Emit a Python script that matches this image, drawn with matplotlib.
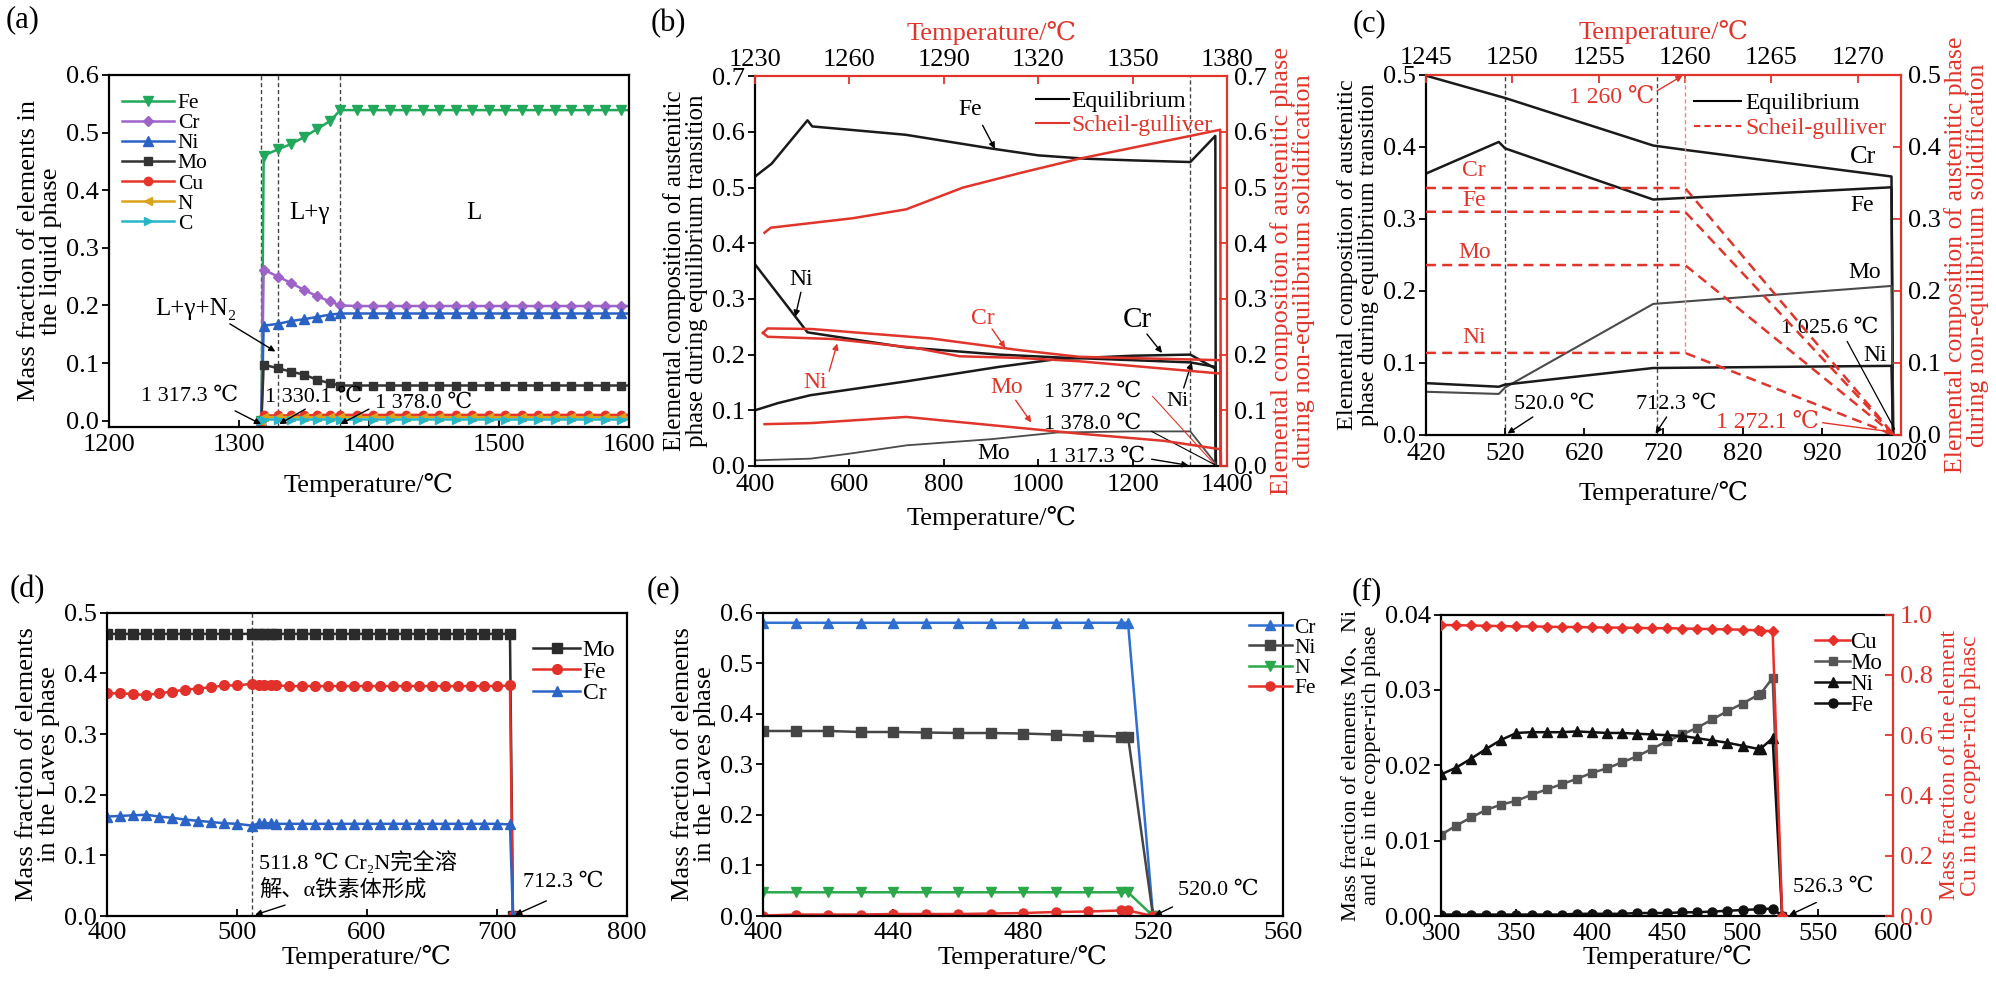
import numpy as np
import matplotlib
matplotlib.use('Agg')
import matplotlib.pyplot as plt
from matplotlib.lines import Line2D
from matplotlib.ticker import FormatStrFormatter

plt.rcParams['font.family'] = ['Liberation Serif', 'DejaVu Serif', 'Noto Sans CJK SC']
plt.rcParams['mathtext.fontset'] = 'stix'
plt.rcParams['axes.unicode_minus'] = False

RED = '#e0352b'
FS_TICK = 19
FS_LAB = 19
FS_ANN = 16

# ---------------- (a) liquid phase ----------------
T_a = [1317.3, 1319.0, 1330.1, 1340.0, 1350.0, 1360.0, 1370.0, 1378.0,
       1390.7, 1403.4, 1416.1, 1428.8, 1441.5, 1454.2, 1466.9, 1479.6, 1492.3,
       1505.0, 1517.7, 1530.4, 1543.1, 1555.8, 1568.5, 1581.2, 1593.9, 1606.6]
Fe_a = [0.0, 0.460, 0.471, 0.480, 0.492, 0.506, 0.520, 0.539,
        0.539, 0.539, 0.539, 0.539, 0.539, 0.539, 0.539, 0.539, 0.539,
        0.539, 0.539, 0.539, 0.539, 0.539, 0.539, 0.539, 0.539, 0.539]
Cr_a = [0.0, 0.262, 0.250, 0.239, 0.227, 0.216, 0.207, 0.200,
        0.199, 0.199, 0.199, 0.199, 0.199, 0.199, 0.199, 0.199, 0.199,
        0.199, 0.199, 0.199, 0.199, 0.199, 0.199, 0.199, 0.199, 0.199]
Ni_a = [0.0, 0.165, 0.168, 0.173, 0.176, 0.180, 0.184, 0.186,
        0.186, 0.186, 0.186, 0.186, 0.186, 0.186, 0.186, 0.186, 0.186,
        0.186, 0.186, 0.186, 0.186, 0.186, 0.186, 0.186, 0.186, 0.186]
Mo_a = [0.0, 0.097, 0.091, 0.085, 0.080, 0.071, 0.065, 0.061,
        0.061, 0.061, 0.061, 0.061, 0.061, 0.061, 0.061, 0.061, 0.061,
        0.061, 0.061, 0.061, 0.061, 0.061, 0.061, 0.061, 0.061, 0.061]
Cu_a = [0.0, 0.009, 0.009, 0.009, 0.009, 0.010, 0.010, 0.010,
        0.010, 0.010, 0.010, 0.010, 0.010, 0.010, 0.010, 0.010, 0.010,
        0.010, 0.010, 0.010, 0.010, 0.010, 0.010, 0.010, 0.010, 0.010]
N_a = [0.0, 0.006, 0.006, 0.006, 0.006, 0.006, 0.006, 0.006,
       0.006, 0.006, 0.006, 0.006, 0.006, 0.006, 0.006, 0.006, 0.006,
       0.006, 0.006, 0.006, 0.006, 0.006, 0.006, 0.006, 0.006, 0.006]
C_a = [0.0, 0.002, 0.002, 0.002, 0.002, 0.002, 0.002, 0.002,
       0.002, 0.002, 0.002, 0.002, 0.002, 0.002, 0.002, 0.002, 0.002,
       0.002, 0.002, 0.002, 0.002, 0.002, 0.002, 0.002, 0.002, 0.002]
a_lines = [1317.3, 1330.1, 1378.0]

# ---------------- (b) austenite: equilibrium (bottom axis) ----------------
Tb_Fe = [400, 435, 511, 521, 719, 903, 1000, 1100, 1200, 1322, 1375, 1376]
Fe_b = [0.520, 0.543, 0.621, 0.610, 0.595, 0.570, 0.558, 0.552, 0.549, 0.546, 0.593, 0.0]
Tb_Ni = [400, 511, 719, 917, 1040, 1200, 1322, 1375, 1376]
Ni_b = [0.362, 0.240, 0.213, 0.200, 0.195, 0.190, 0.186, 0.178, 0.0]
Tb_Cr = [400, 449, 517, 721, 917, 1040, 1200, 1322, 1375, 1376]
Cr_b = [0.100, 0.113, 0.127, 0.152, 0.178, 0.192, 0.198, 0.200, 0.175, 0.0]
Tb_Mo = [400, 517, 600, 721, 900, 1040, 1200, 1322, 1375, 1376]
Mo_b = [0.010, 0.013, 0.022, 0.037, 0.048, 0.060, 0.062, 0.062, 0.005, 0.0]
# (b) Scheil-gulliver (top axis)
Ts_Fe = [1233, 1235, 1261, 1278, 1296, 1314, 1333, 1377.8, 1378]
Fe_s = [0.419, 0.428, 0.445, 0.461, 0.500, 0.526, 0.552, 0.604, 0.0]
Ts_Cr = [1232.5, 1234, 1248, 1286, 1314, 1333, 1377.8, 1378]
Cr_s = [0.239, 0.247, 0.246, 0.229, 0.208, 0.196, 0.190, 0.0]
Ts_Ni = [1232.5, 1234, 1255, 1281, 1295, 1314, 1333, 1377.8, 1378]
Ni_s = [0.239, 0.232, 0.228, 0.212, 0.197, 0.194, 0.188, 0.166, 0.0]
Ts_Mo = [1233, 1248, 1278, 1300, 1333, 1360, 1377.8, 1378]
Mo_s = [0.075, 0.077, 0.088, 0.076, 0.058, 0.045, 0.030, 0.0]

# ---------------- (c) austenite, 420-1020 ----------------
Tc = [420, 512, 520, 707, 1008, 1010]
Tc_Cr = [420, 520, 707, 747, 1008, 1010]
Cr_c = [0.499, 0.468, 0.402, 0.396, 0.359, 0.0]
Fe_c = [0.363, 0.407, 0.398, 0.327, 0.344, 0.0]
Mo_c = [0.060, 0.057, 0.066, 0.182, 0.207, 0.0]
Ni_c = [0.072, 0.067, 0.070, 0.093, 0.096, 0.0]
Tc_s = [1245, 1260, 1272.1]
Cr_cs = [0.343, 0.343, 0.0]
Fe_cs = [0.310, 0.310, 0.0]
Mo_cs = [0.236, 0.236, 0.0]
Ni_cs = [0.114, 0.114, 0.0]

# ---------------- (d) Laves phase 400-712 ----------------
T_d = [400, 410, 420, 430, 440, 450, 460, 470, 480, 490, 500, 511.8, 517, 521, 526,
       530, 540, 550, 560, 570, 580, 590, 600, 610, 620, 630, 640, 650, 660, 670,
       680, 690, 700, 710, 712.3]
Mo_d = [0.465, 0.465, 0.465, 0.465, 0.465, 0.465, 0.465, 0.465, 0.465, 0.465, 0.465,
        0.465, 0.465, 0.465, 0.465, 0.465, 0.465, 0.465, 0.465, 0.465, 0.465, 0.465,
        0.465, 0.465, 0.465, 0.465, 0.465, 0.465, 0.465, 0.465, 0.465, 0.465, 0.465,
        0.465, 0.0]
Fe_d = [0.367, 0.367, 0.366, 0.364, 0.367, 0.370, 0.373, 0.375, 0.377, 0.380, 0.380,
        0.383, 0.381, 0.380, 0.380, 0.380, 0.379, 0.379, 0.379, 0.379, 0.379, 0.379,
        0.379, 0.379, 0.379, 0.379, 0.379, 0.379, 0.379, 0.379, 0.379, 0.379, 0.379,
        0.380, 0.0]
Cr_d = [0.164, 0.165, 0.166, 0.167, 0.164, 0.162, 0.159, 0.157, 0.155, 0.153, 0.152,
        0.149, 0.153, 0.153, 0.153, 0.152, 0.152, 0.152, 0.152, 0.152, 0.152, 0.152,
        0.152, 0.152, 0.152, 0.152, 0.152, 0.152, 0.152, 0.152, 0.152, 0.152, 0.152,
        0.151, 0.0]

# ---------------- (e) Laves phase 400-520 ----------------
T_e = [400, 410, 420, 430, 440, 450, 460, 470, 480, 490, 500, 510, 512.3, 520]
Cr_e = [0.580, 0.580, 0.580, 0.580, 0.580, 0.580, 0.580, 0.580, 0.580, 0.580, 0.580, 0.580, 0.580, 0.0]
Ni_e = [0.366, 0.366, 0.366, 0.364, 0.364, 0.363, 0.362, 0.362, 0.361, 0.359, 0.357, 0.355, 0.355, 0.0]
N_e = [0.047, 0.047, 0.047, 0.047, 0.047, 0.047, 0.047, 0.047, 0.047, 0.047, 0.047, 0.047, 0.047, 0.0]
Fe_e = [0.001, 0.003, 0.003, 0.003, 0.004, 0.004, 0.004, 0.005, 0.006, 0.008, 0.009, 0.011, 0.011, 0.0]

# ---------------- (f) copper-rich phase ----------------
T_f = [300, 310, 320, 330, 340, 350, 360, 370, 380, 390, 400, 410, 420, 430, 440,
       450, 460, 470, 480, 490, 500, 510, 512, 520, 526.3]
Cu_f = [0.966, 0.965, 0.964, 0.963, 0.962, 0.961, 0.961, 0.960, 0.959, 0.959, 0.958,
        0.957, 0.957, 0.956, 0.955, 0.955, 0.954, 0.953, 0.952, 0.951, 0.950, 0.948,
        0.947, 0.945, 0.0]
Mo_f = [0.0108, 0.0120, 0.0131, 0.0141, 0.0148, 0.0153, 0.0161, 0.0168, 0.0175, 0.0182,
        0.0190, 0.0196, 0.0204, 0.0212, 0.0222, 0.0232, 0.0241, 0.0250, 0.0261, 0.0272,
        0.0282, 0.0293, 0.0295, 0.0316, 0.0]
Ni_f = [0.0188, 0.0197, 0.0209, 0.0222, 0.0234, 0.0243, 0.0244, 0.0244, 0.0244, 0.0245,
        0.0244, 0.0243, 0.0243, 0.0242, 0.0241, 0.0240, 0.0239, 0.0236, 0.0233, 0.0230,
        0.0226, 0.0222, 0.0222, 0.0236, 0.0]
Fe_f = [0.0002, 0.0002, 0.0002, 0.0002, 0.0002, 0.0002, 0.0002, 0.0002, 0.0002, 0.0003,
        0.0003, 0.0003, 0.0003, 0.0004, 0.0004, 0.0004, 0.0005, 0.0005, 0.0006, 0.0007,
        0.0008, 0.0009, 0.0009, 0.0010, 0.0]


def style(ax, xpad=5):
    for s in ax.spines.values():
        s.set_linewidth(1.6)
    ax.tick_params(axis='x', direction='in', length=5, width=1.3, labelsize=FS_TICK, pad=xpad)
    ax.tick_params(axis='y', direction='out', length=5, width=1.3, labelsize=FS_TICK, pad=2)


def arrow(ax, start, end, color='k', head=True, lw=1.0):
    ax.annotate('', xy=end, xytext=start,
                arrowprops=dict(arrowstyle='-|>' if head else '-', color=color, lw=lw,
                                mutation_scale=9, shrinkA=0, shrinkB=0))


def dashed_v(ax, x, color='#444444'):
    ax.axvline(x, color=color, lw=1.0, ls=(0, (3, 2)), zorder=1)


fig = plt.figure(figsize=(19.96, 9.85), dpi=100)
fig.patch.set_facecolor('white')

# ======================= (a) =======================
ax = fig.add_axes([0.0546, 0.5665, 0.2605, 0.3574])
style(ax)
for x in a_lines:
    dashed_v(ax, x)
series_a = [('Fe', Fe_a, '#22a85a', 'v', 6.5), ('Cr', Cr_a, '#9d63c8', 'D', 5.0),
            ('Ni', Ni_a, '#2a62c4', '^', 6.5), ('Mo', Mo_a, '#333333', 's', 5.5),
            ('Cu', Cu_a, '#e8352b', 'o', 6.0), ('N', N_a, '#d9a31a', '<', 6.0),
            ('C', C_a, '#27b6c8', '>', 6.0)]
for name, vals, col, mk, ms in series_a:
    ax.plot(T_a, vals, color=col, marker=mk, ms=ms, lw=1.8, mec=col, label=name)
ax.set_xlim(1200, 1600)
ax.set_ylim(-0.011, 0.6)
ax.set_xticks([1200, 1300, 1400, 1500, 1600])
ax.set_yticks([0.0, 0.1, 0.2, 0.3, 0.4, 0.5, 0.6])
ax.yaxis.set_major_formatter(FormatStrFormatter('%.1f'))
ax.set_xlabel('Temperature/℃', fontsize=FS_LAB, labelpad=12)
ax.set_ylabel('Mass fraction of elements in\nthe liquid phase', fontsize=FS_LAB, labelpad=3,
              linespacing=1.0)
ax.legend(loc='upper left', bbox_to_anchor=(0.0, 0.985), frameon=False, fontsize=15.5,
          handlelength=2.4, handletextpad=0.2, labelspacing=0.0, borderaxespad=0.2,
          numpoints=1)
ax.text(1354, 0.36, 'L+γ', fontsize=18, ha='center', va='center')
ax.text(1481, 0.36, 'L', fontsize=18, ha='center', va='center')
ax.text(1267, 0.193, 'L+γ+N₂', fontsize=18, ha='center', va='center')
arrow(ax, (1293, 0.168), (1328, 0.12))
ax.text(1262, 0.043, '1 317.3 ℃', fontsize=FS_ANN, ha='center', va='center')
arrow(ax, (1297, 0.017), (1317, -0.006))
ax.text(1357, 0.040, '1 330.1 ℃', fontsize=FS_ANN, ha='center', va='center')
arrow(ax, (1351, 0.020), (1331, -0.006))
ax.text(1442, 0.030, '1 378.0 ℃', fontsize=FS_ANN, ha='center', va='center')
arrow(ax, (1400, 0.020), (1378, -0.006))

# ======================= (b) =======================
axb = fig.add_axes([0.3783, 0.527, 0.2365, 0.3955])
style(axb, xpad=6)
axb.set_xlim(400, 1400)
axb.set_ylim(0, 0.7)
axb.set_xticks([400, 600, 800, 1000, 1200, 1400])
axb.set_yticks([0.0, 0.1, 0.2, 0.3, 0.4, 0.5, 0.6, 0.7])
axb.yaxis.set_major_formatter(FormatStrFormatter('%.1f'))
dashed_v(axb, 1321)
axb.plot(Tb_Fe, Fe_b, color='#1a1a1a', lw=1.8)
axb.plot(Tb_Ni, Ni_b, color='#1a1a1a', lw=1.8)
axb.plot(Tb_Cr, Cr_b, color='#1a1a1a', lw=1.8)
axb.plot(Tb_Mo, Mo_b, color='#4a4a4a', lw=1.3)
axb.set_xlabel('Temperature/℃', fontsize=FS_LAB, labelpad=7)
axb.set_ylabel('Elemental composition of austenitic\nphase during equilibrium transition',
               fontsize=18, labelpad=3, linespacing=1.0)
axbT = axb.twiny()
axbT.set_xlim(1230, 1380)
axbT.plot(Ts_Fe, Fe_s, color=RED, lw=1.8)
axbT.plot(Ts_Cr, Cr_s, color=RED, lw=1.8)
axbT.plot(Ts_Ni, Ni_s, color=RED, lw=1.8)
axbT.plot(Ts_Mo, Mo_s, color=RED, lw=1.8)
axbT.set_xticks([1230, 1260, 1290, 1320, 1350, 1380])
axbT.tick_params(axis='x', direction='in', length=6, width=1.3, color=RED, labelcolor='k',
                 labelsize=FS_TICK, pad=4)
axbT.set_xlabel('Temperature/℃', color=RED, fontsize=FS_LAB, labelpad=6)
axbR = axb.twinx()
axbR.set_ylim(0, 0.7)
axbR.set_yticks([0.0, 0.1, 0.2, 0.3, 0.4, 0.5, 0.6, 0.7])
axbR.yaxis.set_major_formatter(FormatStrFormatter('%.1f'))
axbR.tick_params(axis='y', direction='in', length=6, width=1.3, color=RED, labelcolor='k',
                 labelsize=FS_TICK, pad=5)
axbR.set_ylabel('Elemental composition of austenitic phase\nduring non-equilibrium solidification',
                color=RED, fontsize=19, labelpad=2, linespacing=0.95)
axb.spines['top'].set_visible(False)
axb.spines['right'].set_visible(False)
for k in ['bottom', 'left', 'right']:
    axbT.spines[k].set_visible(False)
axbT.spines['top'].set_color(RED)
axbT.spines['top'].set_linewidth(1.6)
for k in ['bottom', 'left', 'top']:
    axbR.spines[k].set_visible(False)
axbR.spines['right'].set_color(RED)
axbR.spines['right'].set_linewidth(1.6)
leg = axbR.legend([Line2D([], [], color='k', lw=1.5), Line2D([], [], color=RED, lw=1.5)],
                  ['Equilibrium', 'Scheil-gulliver'], loc='upper right',
                  bbox_to_anchor=(1.0, 1.0), frameon=False, fontsize=17, handlelength=1.4,
                  handletextpad=0.1, labelspacing=0.1, borderaxespad=0.2)
for t, c in zip(leg.get_texts(), ['k', RED]):
    t.set_color(c)
# labels / arrows (b)
axb.text(855, 0.64, 'Fe', fontsize=17, ha='center', va='center')
arrow(axb, (882, 0.612), (908, 0.570))
axb.text(497, 0.335, 'Ni', fontsize=17, ha='center', va='center')
arrow(axb, (497, 0.312), (485, 0.268))
axb.text(883, 0.265, 'Cr', fontsize=17, ha='center', va='center', color=RED)
arrow(axb, (902, 0.246), (930, 0.212), color=RED)
axb.text(528, 0.150, 'Ni', fontsize=17, ha='center', va='center', color=RED)
arrow(axb, (557, 0.170), (574, 0.220), color=RED)
axb.text(934, 0.140, 'Mo', fontsize=17, ha='center', va='center', color=RED)
arrow(axb, (952, 0.118), (985, 0.078), color=RED)
axb.text(905, 0.022, 'Mo', fontsize=17, ha='center', va='center')
axb.text(1209, 0.262, 'Cr', fontsize=21, ha='center', va='center')
arrow(axb, (1230, 0.237), (1262, 0.203))
axb.text(1294, 0.115, 'Ni', fontsize=16, ha='center', va='center')
arrow(axb, (1308, 0.140), (1325, 0.186))
axb.text(1116, 0.132, '1 377.2 ℃', fontsize=FS_ANN, ha='center', va='center')
arrow(axb, (1242, 0.125), (1374, 0.002), color=RED, head=False, lw=0.8)
axb.text(1115, 0.074, '1 378.0 ℃', fontsize=FS_ANN, ha='center', va='center')
arrow(axb, (1240, 0.062), (1374, 0.002), head=False, lw=0.8)
axb.text(1124, 0.016, '1 317.3 ℃', fontsize=FS_ANN, ha='center', va='center')
arrow(axb, (1240, 0.012), (1318, 0.001))

# ======================= (c) =======================
axc = fig.add_axes([0.7144, 0.5584, 0.2380, 0.3655])
style(axc, xpad=6)
axc.set_xlim(420, 1020)
axc.set_ylim(0, 0.5)
axc.set_xticks([420, 520, 620, 720, 820, 920, 1020])
axc.set_yticks([0.0, 0.1, 0.2, 0.3, 0.4, 0.5])
axc.yaxis.set_major_formatter(FormatStrFormatter('%.1f'))
dashed_v(axc, 520)
dashed_v(axc, 712.3)
axc.plot(Tc_Cr, Cr_c, color='#1a1a1a', lw=1.8)
axc.plot(Tc, Fe_c, color='#1a1a1a', lw=1.8)
axc.plot(Tc, Mo_c, color='#4a4a4a', lw=1.5)
axc.plot(Tc, Ni_c, color='#1a1a1a', lw=1.8)
axc.set_xlabel('Temperature/℃', fontsize=FS_LAB, labelpad=11)
axc.set_ylabel('Elemental composition of austenitic\nphase during equilibrium transition',
               fontsize=17.5, labelpad=3, linespacing=1.0)
axcT = axc.twiny()
axcT.set_xlim(1245, 1272.5)
axcT.plot([1260, 1260], [0.114, 0.5], color='#e88880', lw=1.0, ls=(0, (3, 2)))
for vals in [Cr_cs, Fe_cs, Mo_cs, Ni_cs]:
    axcT.plot(Tc_s, vals, color=RED, lw=1.8, ls=(0, (4, 2.5)))
axcT.set_xticks([1245, 1250, 1255, 1260, 1265, 1270])
axcT.tick_params(axis='x', direction='in', length=6, width=1.3, color=RED, labelcolor='k',
                 labelsize=FS_TICK, pad=4)
axcT.set_xlabel('Temperature/℃', color=RED, fontsize=FS_LAB, labelpad=6)
axcR = axc.twinx()
axcR.set_ylim(0, 0.5)
axcR.set_yticks([0.0, 0.1, 0.2, 0.3, 0.4, 0.5])
axcR.yaxis.set_major_formatter(FormatStrFormatter('%.1f'))
axcR.tick_params(axis='y', direction='in', length=6, width=1.3, color=RED, labelcolor='k',
                 labelsize=FS_TICK, pad=5)
axcR.set_ylabel('Elemental composition of austenitic phase\nduring non-equilibrium solidification',
                color=RED, fontsize=18.5, labelpad=2, linespacing=0.95)
axc.spines['top'].set_visible(False)
axc.spines['right'].set_visible(False)
for k in ['bottom', 'left', 'right']:
    axcT.spines[k].set_visible(False)
axcT.spines['top'].set_color(RED)
axcT.spines['top'].set_linewidth(1.6)
for k in ['bottom', 'left', 'top']:
    axcR.spines[k].set_visible(False)
axcR.spines['right'].set_color(RED)
axcR.spines['right'].set_linewidth(1.6)
leg = axcR.legend([Line2D([], [], color='k', lw=1.5),
                   Line2D([], [], color=RED, lw=1.5, ls=(0, (3, 2)))],
                  ['Equilibrium', 'Scheil-gulliver'], loc='upper right',
                  bbox_to_anchor=(1.0, 0.99), frameon=False, fontsize=17, handlelength=2.0,
                  handletextpad=0.2, labelspacing=0.15, borderaxespad=0.2)
for t, c in zip(leg.get_texts(), ['k', RED]):
    t.set_color(c)
for lab, y in [('Cr', 0.368), ('Fe', 0.326), ('Mo', 0.254), ('Ni', 0.135)]:
    axc.text(481, y, lab, fontsize=17, color=RED, ha='center', va='center')
axc.text(972, 0.386, 'Cr', fontsize=19, ha='center', va='center')
axc.text(971, 0.319, 'Fe', fontsize=17, ha='center', va='center')
axc.text(974, 0.225, 'Mo', fontsize=17, ha='center', va='center')
axc.text(988, 0.110, 'Ni', fontsize=17, ha='center', va='center')
axc.text(930, 0.148, '1 025.6 ℃', fontsize=FS_ANN, ha='center', va='center')
arrow(axc, (952, 0.130), (1012, 0.008), head=False, lw=0.9)
axc.text(582, 0.042, '520.0 ℃', fontsize=FS_ANN, ha='center', va='center')
arrow(axc, (555, 0.025), (523, 0.002))
axc.text(736, 0.042, '712.3 ℃', fontsize=FS_ANN, ha='center', va='center')
arrow(axc, (724, 0.025), (710, 0.002))
axc.text(655, 0.469, '1 260 ℃', fontsize=17, ha='center', va='center', color=RED)
arrow(axc, (712, 0.478), (744, 0.499), color=RED)
axc.text(851, 0.018, '1 272.1 ℃', fontsize=17, ha='center', va='center', color=RED)
arrow(axc, (921, 0.017), (1010, 0.004), color=RED)

# ======================= row 2 geometry =======================
ROW2_B = 0.070
ROW2_H = 0.308

# ======================= (d) =======================
axd = fig.add_axes([0.0536, ROW2_B, 0.2605, ROW2_H])
style(axd, xpad=4)
dashed_v(axd, 511.8)
axd.plot(T_d, Mo_d, color='#2b2b2b', marker='s', ms=6.5, lw=1.8, label='Mo')
axd.plot(T_d, Fe_d, color='#e2302b', marker='o', ms=7.0, lw=1.8, label='Fe')
axd.plot(T_d, Cr_d, color='#2b64c6', marker='^', ms=7.0, lw=1.8, label='Cr')
axd.set_xlim(400, 800)
axd.set_ylim(0, 0.5)
axd.set_xticks([400, 500, 600, 700, 800])
axd.set_yticks([0.0, 0.1, 0.2, 0.3, 0.4, 0.5])
axd.yaxis.set_major_formatter(FormatStrFormatter('%.1f'))
axd.set_xlabel('Temperature/℃', fontsize=FS_LAB, labelpad=1)
axd.set_ylabel('Mass fraction of elements\nin the Laves phase', fontsize=FS_LAB, labelpad=3,
               linespacing=1.0)
axd.legend(loc='upper right', bbox_to_anchor=(1.0, 0.95), frameon=False, fontsize=17,
           handlelength=2.0, handletextpad=0.1, labelspacing=0.0, borderaxespad=0.1,
           numpoints=1)
axd.text(517, 0.088, '511.8 ℃ Cr₂N完全溶', fontsize=FS_ANN, ha='left', va='center')
axd.text(517, 0.043, '解、α铁素体形成', fontsize=FS_ANN, ha='left', va='center')
arrow(axd, (537, 0.018), (514, 0.002))
axd.text(751, 0.055, '712.3 ℃', fontsize=FS_ANN, ha='center', va='center')
arrow(axd, (738, 0.025), (714, 0.002))

# ======================= (e) =======================
axe = fig.add_axes([0.3823, ROW2_B, 0.2605, ROW2_H])
style(axe, xpad=4)
axe.plot(T_e, Cr_e, color='#2e6fd0', marker='^', ms=7.0, lw=1.8, label='Cr')
axe.plot(T_e, Ni_e, color='#454545', marker='s', ms=6.5, lw=1.8, label='Ni')
axe.plot(T_e, N_e, color='#2aa84a', marker='v', ms=7.0, lw=1.8, label='N')
axe.plot(T_e, Fe_e, color='#e2302b', marker='o', ms=6.5, lw=1.8, label='Fe')
axe.set_xlim(400, 560)
axe.set_ylim(0, 0.6)
axe.set_xticks([400, 440, 480, 520, 560])
axe.set_yticks([0.0, 0.1, 0.2, 0.3, 0.4, 0.5, 0.6])
axe.yaxis.set_major_formatter(FormatStrFormatter('%.1f'))
axe.set_xlabel('Temperature/℃', fontsize=FS_LAB, labelpad=1)
axe.set_ylabel('Mass fraction of elements\nin the Laves phase', fontsize=FS_LAB, labelpad=3,
               linespacing=1.0)
axe.legend(loc='upper left', bbox_to_anchor=(0.93, 0.99), frameon=False, fontsize=15.5,
           handlelength=2.0, handletextpad=0.1, labelspacing=0.0, borderaxespad=0.0,
           borderpad=0.1, numpoints=1)
axe.text(540, 0.050, '520.0 ℃', fontsize=FS_ANN, ha='center', va='center')
arrow(axe, (526, 0.018), (520.5, 0.001))

# ======================= (f) =======================
axf = fig.add_axes([0.7220, ROW2_B, 0.2265, ROW2_H - 0.002])
style(axf, xpad=5)
axf.plot(T_f, Mo_f, color='#555555', marker='s', ms=6.0, lw=1.8, label='Mo')
axf.plot(T_f, Ni_f, color='#111111', marker='^', ms=6.5, lw=1.8, label='Ni')
axf.plot(T_f, Fe_f, color='#111111', marker='o', ms=6.5, lw=1.8, label='Fe')
axf.set_xlim(300, 600)
axf.set_ylim(0, 0.04)
axf.set_xticks([300, 350, 400, 450, 500, 550, 600])
axf.set_yticks([0.0, 0.01, 0.02, 0.03, 0.04])
axf.yaxis.set_major_formatter(FormatStrFormatter('%.2f'))
axf.set_xlabel('Temperature/℃', fontsize=FS_LAB, labelpad=0)
axf.set_ylabel('Mass fraction of elements Mo、Ni\nand Fe in the copper-rich phase',
               fontsize=16, labelpad=3, linespacing=1.0)
axf2 = axf.twinx()
axf2.plot(T_f, Cu_f, color='#e8302b', marker='D', ms=5.5, lw=1.8, label='Cu')
axf2.set_ylim(0, 1.0)
axf2.set_yticks([0.0, 0.2, 0.4, 0.6, 0.8, 1.0])
axf2.yaxis.set_major_formatter(FormatStrFormatter('%.1f'))
axf2.tick_params(axis='y', direction='in', length=6, width=1.3, color=RED, labelcolor=RED,
                 labelsize=FS_TICK, pad=5)
axf2.set_ylabel('Mass fraction of the element\nCu in the copper-rich phasc', color=RED,
                fontsize=17, labelpad=4, linespacing=1.0)
axf.spines['right'].set_visible(False)
for k in ['bottom', 'left', 'top']:
    axf2.spines[k].set_visible(False)
axf2.spines['right'].set_color(RED)
axf2.spines['right'].set_linewidth(1.6)
h1, l1 = axf2.get_legend_handles_labels()
h2, l2 = axf.get_legend_handles_labels()
axf2.legend(h1 + h2, l1 + l2, loc='upper right', bbox_to_anchor=(1.0, 0.98), frameon=False,
            fontsize=16.5, handlelength=1.5, handletextpad=0.0, labelspacing=0.0,
            borderaxespad=0.1, numpoints=1)
axf.text(560, 0.0038, '526.3 ℃', fontsize=FS_ANN, ha='center', va='center')
arrow(axf, (549, 0.0018), (531, 0.0001))

# panel letters
for lab, x, y in [('(a)', 23, 20), ('(b)', 668, 24), ('(c)', 1369, 24),
                  ('(d)', 27, 590), ('(e)', 663, 590), ('(f)', 1367, 592)]:
    fig.text(x / 1996, 1 - y / 985, lab, fontsize=22, ha='center', va='center')

fig.savefig('out.png', dpi=100, facecolor='white')
